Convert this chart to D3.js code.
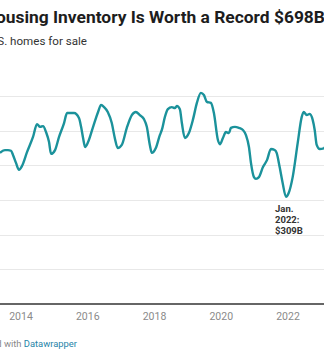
<!DOCTYPE html>
<html>
<head>
  <meta charset="utf-8">
  <script src="https://d3js.org/d3.v7.min.js"></script>
  <style>
    body {
      margin: 0;
      background: #ffffff;
      font-family: Roboto, "Noto Sans", sans-serif;
      overflow: hidden;
    }
    .title { font-size: 17.4px; font-weight: bold; fill: #1d1d1d; }
    .subtitle { font-size: 11.6px; fill: #333333; }
    .tick_label { font-size: 10.5px; fill: #8a8a8a; text-anchor: middle; }
    .note { font-size: 9.5px; font-weight: bold; fill: #333333; }
    .footer { font-size: 9.4px; fill: #888888; }
    .grid { stroke: #e8e8e8; stroke-width: 1; }
  </style>
  <title>Housing inventory value</title>
</head>
<body>
  <svg></svg>

  <script>
    // value of U.S. homes for sale, billions of dollars
    const years = [
      2013.37, 2013.52, 2013.61, 2013.70, 2013.76, 2013.85, 2013.94,
      2014.03, 2014.18, 2014.36, 2014.48, 2014.57, 2014.66, 2014.75, 2014.84, 2014.90,
      2015.02, 2015.14, 2015.29, 2015.38, 2015.47, 2015.59, 2015.74, 2015.80, 2015.86, 2015.92,
      2016.01, 2016.16, 2016.31, 2016.40, 2016.49, 2016.60, 2016.72, 2016.81, 2016.90,
      2017.02, 2017.17, 2017.32, 2017.44, 2017.56, 2017.68, 2017.77, 2017.86, 2017.92,
      2018.04, 2018.16, 2018.22, 2018.31, 2018.40, 2018.52, 2018.61, 2018.67, 2018.76, 2018.82, 2018.91,
      2019.03, 2019.15, 2019.27, 2019.39, 2019.48, 2019.57, 2019.69, 2019.78, 2019.90, 2019.96,
      2020.05, 2020.14, 2020.23, 2020.29, 2020.41, 2020.53, 2020.65, 2020.74, 2020.83, 2020.89, 2020.98,
      2021.04, 2021.13, 2021.25, 2021.37, 2021.49, 2021.60, 2021.66, 2021.75, 2021.84, 2021.94,
      2022.02, 2022.14, 2022.29, 2022.41, 2022.47, 2022.56, 2022.65, 2022.74, 2022.80, 2022.86, 2022.95,
      2023.07, 2023.20
    ]
    const values = [
      436, 444, 444, 442, 430, 407, 387,
      398, 438, 482, 519, 511, 513, 496, 467, 433,
      444, 482, 522, 551, 551, 551, 536, 511, 479, 453,
      467, 511, 554, 574, 568, 554, 522, 479, 450,
      459, 508, 545, 554, 545, 534, 511, 459, 436,
      450, 487, 502, 539, 562, 568, 565, 571, 562, 522, 479,
      493, 531, 580, 609, 603, 583, 580, 551, 473, 461,
      479, 496, 493, 508, 511, 508, 502, 487, 453, 407, 366,
      361, 366, 395, 415, 447, 444, 436, 395, 349, 309,
      320, 366, 464, 539, 554, 545, 548, 531, 502, 459, 447,
      449, 480
    ]
    const tickYears = [2014, 2016, 2018, 2020, 2022]
    const gridValues = [0, 100, 200, 300, 400, 500, 600]
    const noteLines = ["Jan.", "2022:", "$309B"]
    const noteYear = 2021.94

    const width = 324
    const height = 353

    const svg = d3.select("svg")
      .attr("width", width)
      .attr("height", height)

    const xScale = d3.scaleLinear()
      .domain([2014, 2022])
      .range([21, 288])

    const yScale = d3.scaleLinear()
      .domain([0, 600])
      .range([304, 96])

    const data = years.map((y, i) => ({year: y, value: values[i]}))

    // gridlines
    svg.selectAll(".grid")
      .data(gridValues.filter(v => v > 0))
      .enter()
      .append("line")
      .attr("class", "grid")
      .attr("x1", 0)
      .attr("x2", width)
      .attr("y1", d => Math.round(yScale(d)) + 0.5)
      .attr("y2", d => Math.round(yScale(d)) + 0.5)

    // baseline
    svg.append("line")
      .attr("x1", 0)
      .attr("x2", width)
      .attr("y1", yScale(0))
      .attr("y2", yScale(0))
      .attr("stroke", "#333333")
      .attr("stroke-width", 1.3)

    svg.selectAll(".tick_label")
      .data(tickYears)
      .enter()
      .append("text")
      .attr("class", "tick_label")
      .attr("x", d => xScale(d))
      .attr("y", 320)
      .text(d => d)

    const line = d3.line()
      .x(d => xScale(d.year))
      .y(d => yScale(d.value))
      .curve(d3.curveMonotoneX)

    svg.append("path")
      .datum(data)
      .attr("fill", "none")
      .attr("stroke", "#1b929b")
      .attr("stroke-width", 2.4)
      .attr("stroke-linejoin", "round")
      .attr("d", line)

    // annotation under the Jan. 2022 low
    svg.selectAll(".note")
      .data(noteLines)
      .enter()
      .append("text")
      .attr("class", "note")
      .attr("x", xScale(noteYear) - 11)
      .attr("y", (d, i) => 212 + i * 11)
      .text(d => d)

    // title, cropped at both edges
    const title = svg.append("text")
      .attr("class", "title")
      .attr("y", 23)
      .text("Housing Inventory Is Worth a Record $698B")
    title.attr("x", 53 - title.node().getSubStringLength(0, 8))

    svg.append("text")
      .attr("class", "subtitle")
      .attr("x", 87)
      .attr("y", 45)
      .attr("text-anchor", "end")
      .text("U.S. homes for sale")

    const footer = svg.append("text")
      .attr("class", "footer")
      .attr("x", 77)
      .attr("y", 347)
      .attr("text-anchor", "end")
    footer.append("tspan").text("Created with ")
    footer.append("tspan").attr("fill", "#1f84a8").text("Datawrapper")
  </script>
</body>
</html>
